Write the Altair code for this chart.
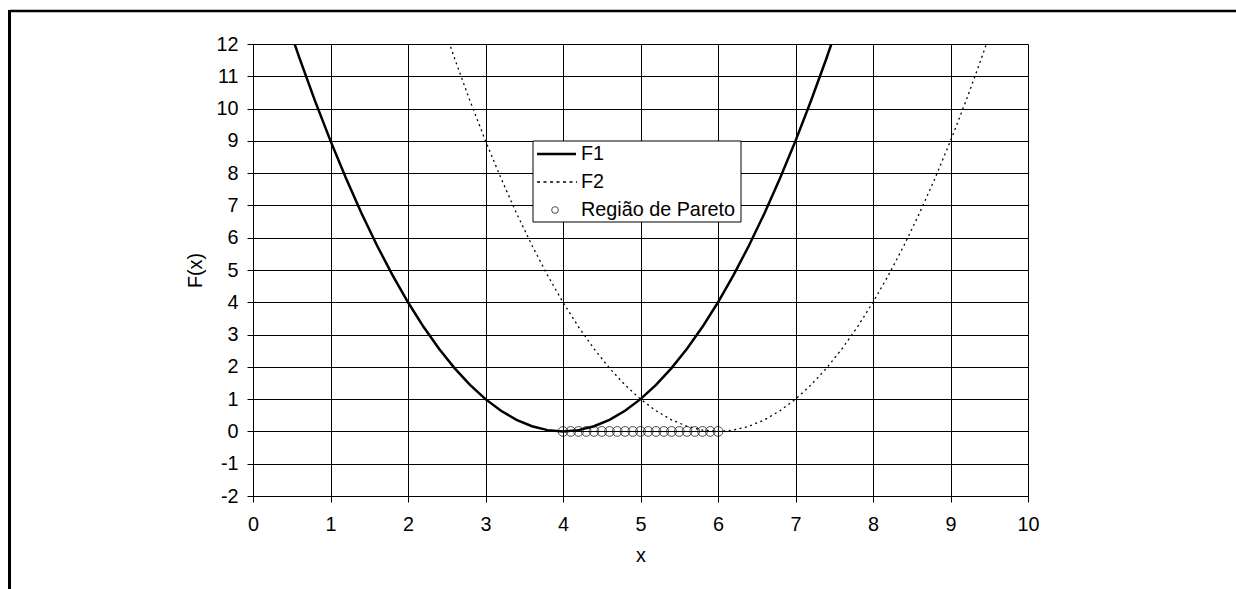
import altair as alt
import pandas as pd

# Sample abscissas for the two objective curves
x_vals = [0.0, 0.2, 0.4, 0.6, 0.8, 1.0, 1.2, 1.4, 1.6, 1.8,
          2.0, 2.2, 2.4, 2.6, 2.8, 3.0, 3.2, 3.4, 3.6, 3.8,
          4.0, 4.2, 4.4, 4.6, 4.8, 5.0, 5.2, 5.4, 5.6, 5.8,
          6.0, 6.2, 6.4, 6.6, 6.8, 7.0, 7.2, 7.4, 7.6, 7.8,
          8.0, 8.2, 8.4, 8.6, 8.8, 9.0, 9.2, 9.4, 9.6, 9.8, 10.0]

f1_vals = [16.0, 14.44, 12.96, 11.56, 10.24, 9.0, 7.84, 6.76, 5.76, 4.84,
           4.0, 3.24, 2.56, 1.96, 1.44, 1.0, 0.64, 0.36, 0.16, 0.04,
           0.0, 0.04, 0.16, 0.36, 0.64, 1.0, 1.44, 1.96, 2.56, 3.24,
           4.0, 4.84, 5.76, 6.76, 7.84, 9.0, 10.24, 11.56, 12.96, 14.44,
           16.0, 17.64, 19.36, 21.16, 23.04, 25.0, 27.04, 29.16, 31.36, 33.64, 36.0]

f2_vals = [36.0, 33.64, 31.36, 29.16, 27.04, 25.0, 23.04, 21.16, 19.36, 17.64,
           16.0, 14.44, 12.96, 11.56, 10.24, 9.0, 7.84, 6.76, 5.76, 4.84,
           4.0, 3.24, 2.56, 1.96, 1.44, 1.0, 0.64, 0.36, 0.16, 0.04,
           0.0, 0.04, 0.16, 0.36, 0.64, 1.0, 1.44, 1.96, 2.56, 3.24,
           4.0, 4.84, 5.76, 6.76, 7.84, 9.0, 10.24, 11.56, 12.96, 14.44, 16.0]

# Pareto-optimal set between the two minima
pareto_x = [4.0, 4.1, 4.2, 4.3, 4.4, 4.5, 4.6, 4.7, 4.8, 4.9, 5.0,
            5.1, 5.2, 5.3, 5.4, 5.5, 5.6, 5.7, 5.8, 5.9, 6.0]
pareto_y = [0.0] * len(pareto_x)

x_ticks = list(range(0, 11))
y_ticks = list(range(-2, 13))

FONT = "Liberation Sans"
FS = 19.8

curves = pd.DataFrame({"x": x_vals, "F1": f1_vals, "F2": f2_vals})
pareto = pd.DataFrame({"x": pareto_x, "y": pareto_y})

x_scale = alt.Scale(domain=[0, 10], nice=False, zero=False)
y_scale = alt.Scale(domain=[-2, 12], nice=False, zero=False)

plain_label = "'' + datum.value"

x_axis = alt.Axis(values=x_ticks, tickCount=11, title="x", grid=True, labelPadding=12,
                  titlePadding=12, labelExpr=plain_label, labelOverlap=False,
                  labelFlush=False)
y_axis = alt.Axis(values=y_ticks, tickCount=15, title="F(x)", grid=True, labelPadding=9,
                  titlePadding=10, labelExpr=plain_label, labelOverlap=False,
                  labelFlush=False)

X = alt.X("x:Q", scale=x_scale, axis=x_axis)

base = alt.Chart(curves)

f1_line = base.mark_line(color="black", strokeWidth=2.5, clip=True).encode(
    x=X,
    y=alt.Y("F1:Q", scale=y_scale, axis=y_axis),
)

f2_line = base.mark_line(color="black", strokeWidth=1.3, strokeDash=[2, 3.5],
                         clip=True).encode(
    x=X,
    y=alt.Y("F2:Q", scale=y_scale, axis=y_axis),
)

pareto_pts = alt.Chart(pareto).mark_point(
    shape="circle", filled=False, color="black", size=95, strokeWidth=1
).encode(
    x=X,
    y=alt.Y("y:Q", scale=y_scale, axis=y_axis),
)

# Legend box drawn inside the plot area
one = pd.DataFrame({"k": [0]})
leg_box = alt.Chart(one).mark_rect(fill="white", stroke="black", strokeWidth=1).encode(
    x=alt.value(280), x2=alt.value(488), y=alt.value(97), y2=alt.value(178)
)
leg_f1 = alt.Chart(one).mark_rule(color="black", strokeWidth=2.5).encode(
    x=alt.value(284), x2=alt.value(323), y=alt.value(110)
)
leg_f2 = alt.Chart(one).mark_rule(color="black", strokeWidth=1.3, strokeDash=[3, 3.5]).encode(
    x=alt.value(284), x2=alt.value(324), y=alt.value(138)
)
leg_pt = alt.Chart(one).mark_point(shape="circle", filled=False, color="black",
                                   size=45, strokeWidth=1).encode(
    x=alt.value(302), y=alt.value(166)
)


def leg_text(label, ypix):
    return alt.Chart(one).mark_text(
        align="left", baseline="middle", font=FONT, fontSize=FS, color="black"
    ).encode(x=alt.value(328), y=alt.value(ypix), text=alt.value(label))


# Outer chart frame (top and left edges)
frame_top = alt.Chart(one).mark_rule(color="black", strokeWidth=2.5).encode(
    x=alt.value(-243.5), x2=alt.value(990), y=alt.value(-33)
)
frame_left = alt.Chart(one).mark_rule(color="black", strokeWidth=3).encode(
    x=alt.value(-243.5), y=alt.value(-34), y2=alt.value(560)
)

chart = alt.layer(
    f1_line, f2_line, pareto_pts,
    leg_box, leg_f1, leg_f2, leg_pt,
    leg_text("F1", 110), leg_text("F2", 138), leg_text("Região de Pareto", 166),
    frame_top, frame_left,
).properties(
    width=775, height=452,
    autosize=alt.AutoSizeParams(type="none"),
    padding={"left": 253, "top": 44, "right": 208, "bottom": 93},
    background="white",
).configure_view(
    strokeWidth=0
).configure_axis(
    domainColor="black", domainWidth=1,
    tickColor="black", tickSize=6, tickWidth=1,
    gridColor="black", gridWidth=1, gridOpacity=1,
    labelFont=FONT, labelFontSize=FS, labelColor="black",
    titleFont=FONT, titleFontSize=FS, titleColor="black", titleFontWeight="normal",
)

chart.save("out.html", embed_options={"renderer": "svg", "actions": False})
